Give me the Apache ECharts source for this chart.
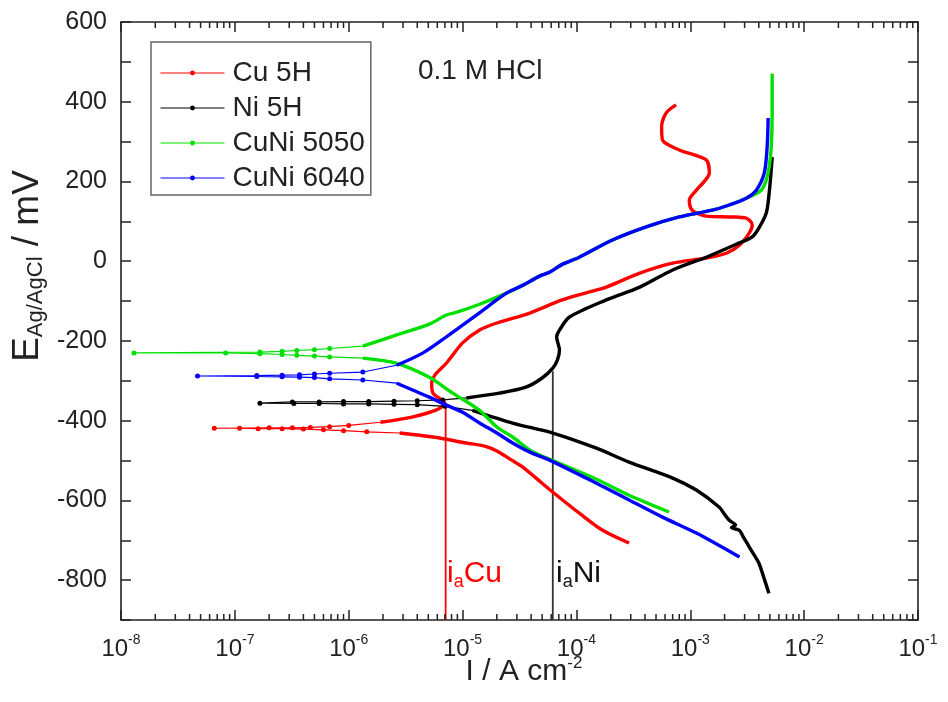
<!DOCTYPE html>
<html>
<head>
<meta charset="UTF-8">
<title>Polarization curves, 0.1 M HCl</title>
<style>
  * { margin: 0; padding: 0; }
  body { background: #fff; }
</style>
<script src="https://cdn.jsdelivr.net/npm/echarts@6/dist/echarts.min.js"></script>
</head>
<body>
<div id="main" style="width: 948px; height: 702px;"></div>
<script>
// current density (A cm-2) and potential (mV vs Ag/AgCl).
// every sweep goes from the cathodic end, through Ecorr, to the anodic end
var cuI = [2.9e-4, 1.7e-4, 1.06e-4, 6.7e-5, 5.0e-5, 3.4e-5, 2.7e-5, 2.0e-5, 1.56e-5, 1.08e-5, 5.5e-6, 2.8e-6,
           1.44e-6, 9.0e-7, 6.0e-7, 4.0e-7, 2.6e-7, 1.6e-7, 1.1e-7, 6.6e-8,
           2.0e-7, 3.2e-7, 4.6e-7, 6.8e-7, 1.0e-6, 1.9e-6, 3.6e-6, 5.9e-6, 7.0e-6, 5.5e-6,
           5.35e-6, 5.7e-6, 7.2e-6, 1.0e-5, 1.4e-5, 2.0e-5, 3.9e-5, 7.5e-5, 1.3e-4, 1.83e-4,
           3.6e-4, 7.0e-4, 1.38e-3, 2.07e-3, 2.7e-3, 3.3e-3, 3.5e-3, 3.1e-3, 2.3e-3, 1.38e-3,
           1.04e-3, 9.8e-4, 1.13e-3, 1.47e-3, 1.38e-3, 8.0e-4, 5.7e-4, 5.6e-4, 6.15e-4, 7.5e-4];
var cuE = [-707, -675, -632, -587, -557, -517, -499, -476, -464, -456, -441, -431,
           -428, -425, -423, -421, -420, -420, -419, -419,
           -418, -418, -417, -415, -412, -404, -391, -373, -356, -331,
           -306, -286, -256, -205, -173, -155, -130, -97, -77, -65,
           -30, -5, 8, 20, 40, 71, 91, 108, 111, 113,
           128, 153, 178, 221, 254, 279, 304, 337, 372, 392];

var niI = [4.9e-3, 4.5e-3, 4.0e-3, 3.6e-3, 3.3e-3, 2.9e-3, 2.7e-3, 2.3e-3, 2.5e-3, 2.2e-3,
           2.0e-3, 1.8e-3, 1.13e-3, 7.0e-4, 2.9e-4, 1.5e-4, 6.2e-5, 2.75e-5, 1.22e-5, 7.0e-6,
           4.0e-6, 2.5e-6, 1.5e-6, 9.0e-7, 5.5e-7, 3.3e-7, 1.66e-7,
           3.2e-7, 5.5e-7, 9.0e-7, 1.5e-6, 2.5e-6, 4.0e-6, 6.7e-6, 1.08e-5, 2.1e-5, 3.6e-5,
           5.0e-5, 6.2e-5, 6.8e-5, 7.1e-5, 6.7e-5, 7.1e-5, 8.7e-5, 1.83e-4, 3.6e-4, 7.0e-4,
           1.38e-3, 2.7e-3, 3.5e-3, 4.0e-3, 4.65e-3, 4.93e-3, 5.14e-3, 5.24e-3];
var niE = [-833, -800, -757, -735, -717, -690, -675, -668, -662, -650,
           -635, -617, -574, -544, -504, -469, -431, -406, -374, -364,
           -360, -359, -358, -358, -357, -357, -356,
           -353, -353, -352, -352, -351, -350, -348, -343, -331, -316,
           -293, -268, -248, -223, -190, -173, -140, -97, -65, -22,
           10, 46, 61, 83, 121, 171, 229, 261];

var cuni5050I = [6.5e-4, 2.9e-4, 1.5e-4, 5.5e-5, 3.9e-5, 2.75e-5, 2.0e-5, 1.41e-5, 8.2e-6, 5.1e-6,
                 2.64e-6, 1.33e-6, 6.8e-7, 5.0e-7, 3.5e-7, 2.6e-7, 1.66e-7, 8.3e-8, 1.3e-8,
                 1.66e-7, 2.6e-7, 3.5e-7, 5.0e-7, 6.8e-7, 1.33e-6, 2.64e-6, 5.1e-6, 7.2e-6, 8.9e-6,
                 1.41e-5, 2.43e-5, 3.4e-5, 4.7e-5, 5.8e-5, 7.5e-5, 1.06e-4, 2.07e-4, 4.1e-4, 8.0e-4,
                 1.56e-3, 2.2e-3, 3.1e-3, 4.2e-3, 4.65e-3, 4.93e-3, 5.14e-3, 5.24e-3, 5.24e-3];
var cuni5050E = [-629, -587, -547, -494, -474, -441, -416, -374, -331, -291,
                 -256, -243, -240, -238, -236, -234, -232, -230, -230,
                 -228, -226, -224, -222, -219, -213, -185, -158, -135, -128,
                 -108, -80, -60, -38, -28, -8, 10, 53, 86, 111,
                 128, 141, 158, 178, 204, 236, 286, 372, 470];

var cuni6040I = [2.7e-3, 1.13e-3, 5.7e-4, 2.9e-4, 1.5e-4, 5.8e-5, 3.9e-5, 2.75e-5, 2.0e-5, 1.41e-5,
                 1.0e-5, 7.2e-6, 5.1e-6, 2.64e-6, 1.33e-6, 6.8e-7, 5.0e-7, 3.7e-7, 2.6e-7, 1.56e-7, 4.7e-8,
                 1.56e-7, 2.6e-7, 3.7e-7, 5.0e-7, 6.8e-7, 1.33e-6, 2.64e-6, 4.5e-6, 7.2e-6, 1.15e-5,
                 1.7e-5, 2.43e-5, 3.4e-5, 4.7e-5, 5.8e-5, 7.5e-5, 1.06e-4, 2.07e-4, 4.1e-4, 8.0e-4,
                 1.56e-3, 2.2e-3, 3.1e-3, 3.8e-3, 4.46e-3, 4.73e-3, 4.83e-3];
var cuni6040E = [-742, -682, -642, -599, -557, -499, -479, -456, -431, -406,
                 -379, -361, -341, -306, -298, -295, -292, -291, -290, -289, -288,
                 -287, -286, -285, -283, -281, -278, -261, -230, -190, -148,
                 -112, -80, -60, -38, -28, -8, 10, 53, 86, 111,
                 128, 141, 158, 178, 221, 286, 359];

// anodic current markers (vertical lines)
var iaCu = [7.1e-6, -356];
var iaNi = [6.2e-5, -276];

var decades = [1e-8, 1e-7, 1e-6, 1e-5, 1e-4, 1e-3, 1e-2, 1e-1];
var yMin = -900, yMax = 600;

var minorX = [];
for (var d = 0; d < decades.length - 1; d++) {
  for (var m = 2; m <= 9; m++) minorX.push(m * decades[d]);
}

var FONT = 'Liberation Sans';
var AX = '#222';
var NEAR = 12; // mV around Ecorr where the sweep is drawn as thin line + dots

var chart = echarts.init(document.getElementById('main'));

// one sweep = thin dotted line (whole curve) + thick line away from Ecorr
function curve(name, xs, ys, color, z) {
  var k = xs.indexOf(Math.min.apply(null, xs));
  var e0 = ys[k];
  var near = function (e) { return Math.abs(e - e0) < NEAR; };
  var thin = xs.map(function (x, i) { return [x, ys[i]]; });
  var thick = xs.map(function (x, i) { return [x, near(ys[i]) ? '-' : ys[i]]; });
  return [{
    name: name,
    type: 'line',
    data: thin,
    symbol: 'circle',
    symbolSize: function (v) { return near(v[1]) ? 5 : 0; },
    showSymbol: true,
    z: z,
    lineStyle: { color: color, width: 1.2 },
    itemStyle: { color: color },
    emphasis: { disabled: true }
  }, {
    name: name,
    type: 'line',
    data: thick,
    smooth: 0.3,
    showSymbol: false,
    connectNulls: false,
    z: z,
    lineStyle: { color: color, width: 3.4 },
    emphasis: { disabled: true }
  }];
}

function marker(pt, color) {
  return {
    type: 'line',
    data: [[pt[0], yMin], [pt[0], pt[1]]],
    symbol: 'none',
    silent: true,
    z: 1,
    lineStyle: { color: color, width: 1.8 }
  };
}

function sideAxis(extra) {
  return Object.assign({
    axisLine: { show: true, onZero: false, lineStyle: { color: AX, width: 1.6 } },
    axisTick: { show: true, inside: true, length: 10, lineStyle: { color: AX, width: 1.5 } },
    splitLine: { show: false }
  }, extra);
}

var option = {
  animation: false,
  backgroundColor: '#fff',
  grid: { left: 121, right: 30, top: 22, bottom: 82 },
  xAxis: [
    sideAxis({
      type: 'log', logBase: 10, min: decades[0], max: decades[decades.length - 1],
      position: 'bottom',
      axisLabel: {
        margin: 13,
        formatter: function (v) {
          return '{b|10}{s|' + Math.round(Math.log10(v)) + '}';
        },
        rich: {
          b: { fontFamily: FONT, fontSize: 24, color: AX, lineHeight: 28, verticalAlign: 'bottom' },
          s: { fontFamily: FONT, fontSize: 14, color: AX, lineHeight: 14, verticalAlign: 'top' }
        }
      }
    }),
    sideAxis({
      type: 'log', logBase: 10, min: decades[0], max: decades[decades.length - 1],
      position: 'top', axisLabel: { show: false }
    })
  ],
  yAxis: [
    sideAxis({
      type: 'value', min: yMin, max: yMax, interval: 100, position: 'left',
      axisLabel: {
        margin: 14, fontFamily: FONT, fontSize: 25, color: AX,
        formatter: function (v) { return v % 200 === 0 ? String(v) : ''; }
      }
    }),
    sideAxis({
      type: 'value', min: yMin, max: yMax, interval: 100, position: 'right',
      axisLabel: { show: false }
    })
  ],
  legend: {
    data: ['Cu 5H', 'Ni 5H', 'CuNi 5050', 'CuNi 6040'],
    orient: 'vertical',
    left: 151, top: 42,
    padding: [17, 6, 3, 9],
    itemWidth: 64, itemHeight: 6, itemGap: 7,
    borderColor: '#666', borderWidth: 1.5,
    selectedMode: false,
    lineStyle: { width: 1 },
    textStyle: { fontFamily: FONT, fontSize: 28, color: '#222', lineHeight: 28, padding: [0, 0, 0, 3] }
  },
  graphic: [
    { type: 'text', left: 418, top: 57, style: { text: '0.1 M HCl', font: '28px ' + FONT, fill: '#222' } },
    {
      type: 'text', left: 447, top: 559,
      style: {
        text: '{m|i}{s|a}{m|Cu}', fill: '#ff0000',
        rich: {
          m: { fontFamily: FONT, fontSize: 30, lineHeight: 32, verticalAlign: 'top', fill: '#ff0000' },
          s: { fontFamily: FONT, fontSize: 18, lineHeight: 18, verticalAlign: 'bottom', fill: '#ff0000' }
        }
      }
    },
    {
      type: 'text', left: 556, top: 559,
      style: {
        text: '{m|i}{s|a}{m|Ni}', fill: '#111',
        rich: {
          m: { fontFamily: FONT, fontSize: 30, lineHeight: 32, verticalAlign: 'top', fill: '#111' },
          s: { fontFamily: FONT, fontSize: 18, lineHeight: 18, verticalAlign: 'bottom', fill: '#111' }
        }
      }
    },
    {
      type: 'text', x: 524, y: 671,
      style: {
        text: '{m|I / A cm}{s|-2}', align: 'center', verticalAlign: 'middle',
        rich: {
          m: { fontFamily: FONT, fontSize: 30, lineHeight: 32, verticalAlign: 'bottom', fill: '#222' },
          s: { fontFamily: FONT, fontSize: 17, lineHeight: 17, verticalAlign: 'top', fill: '#222' }
        }
      }
    },
    {
      type: 'text', x: 28, y: 266, rotation: Math.PI / 2,
      style: {
        text: '{m|E}{s|Ag/AgCl}{m| / mV}', align: 'center', verticalAlign: 'middle',
        rich: {
          m: { fontFamily: FONT, fontSize: 37, lineHeight: 38, verticalAlign: 'top', fill: '#222' },
          s: { fontFamily: FONT, fontSize: 22, lineHeight: 22, verticalAlign: 'bottom', fill: '#222' }
        }
      }
    }
  ],
  series: [
    marker(iaCu, '#ff0000'),
    marker(iaNi, '#333')
  ].concat(
    curve('Cu 5H', cuI, cuE, '#ff0000', 2),
    curve('Ni 5H', niI, niE, '#000000', 3),
    curve('CuNi 5050', cuni5050I, cuni5050E, '#00e000', 4),
    curve('CuNi 6040', cuni6040I, cuni6040E, '#0000ff', 5),
    [{
      // minor ticks of the log axis, bottom and top
      type: 'custom',
      silent: true,
      clip: false,
      data: minorX.map(function (v) { return [v, yMin]; }),
      renderItem: function (params, api) {
        var b = api.coord([api.value(0), yMin]);
        var t = api.coord([api.value(0), yMax]);
        var st = { stroke: AX, lineWidth: 1.5 };
        return {
          type: 'group',
          children: [
            { type: 'line', shape: { x1: b[0], y1: b[1], x2: b[0], y2: b[1] - 6 }, style: st },
            { type: 'line', shape: { x1: t[0], y1: t[1], x2: t[0], y2: t[1] + 6 }, style: st }
          ]
        };
      }
    }]
  )
};

chart.setOption(option);
</script>
</body>
</html>
